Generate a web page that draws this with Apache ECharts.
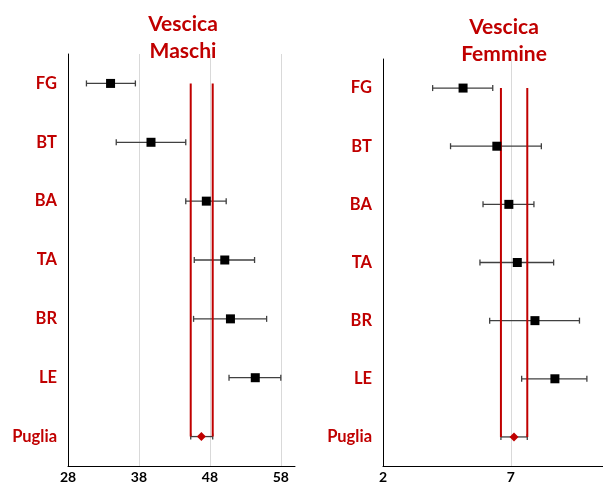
<!DOCTYPE html>
<html>
<head>
<meta charset="utf-8">
<script src="https://cdn.jsdelivr.net/npm/echarts@6/dist/echarts.min.js"></script>
<style>
  html, body { margin: 0; padding: 0; background: #fff; }
  #chart { width: 603px; height: 484px; }
</style>
</head>
<body>
<div id="chart"></div>
<script>
// Provinces, top to bottom
const categories = ['FG', 'BT', 'BA', 'TA', 'BR', 'LE', 'Puglia'];

// Vescica - Maschi: rate with lower / upper confidence bounds
const maschiVal  = [34.0, 39.7, 47.5, 50.1, 50.9, 54.4, 46.8];
const maschiLow  = [30.6, 34.8, 44.6, 45.8, 45.7, 50.7, 45.3];
const maschiHigh = [37.5, 44.6, 50.3, 54.3, 56.0, 58.0, 48.4];

// Vescica - Femmine: rate with lower / upper confidence bounds
const femmineVal  = [5.13, 6.45, 6.92, 7.25, 7.94, 8.72, 7.12];
const femmineLow  = [3.94, 4.64, 5.91, 5.79, 6.17, 7.42, 6.61];
const femmineHigh = [6.29, 8.19, 7.90, 8.67, 9.68, 9.97, 7.64];

const RED = '#C00000';
const FONT = 'Lato, "Open Sans", sans-serif';
const last = categories.length - 1;

function errorBars(low, high, idx) {
  return {
    type: 'custom',
    xAxisIndex: idx, yAxisIndex: idx,
    z: 3,
    data: categories.map((c, i) => [low[i], high[i], i]),
    encode: { x: [0, 1], y: 2 },
    renderItem: function (params, api) {
      const a = api.coord([api.value(0), api.value(2)]);
      const b = api.coord([api.value(1), api.value(2)]);
      const h = 3;
      const style = { stroke: '#404040', lineWidth: 1.3, fill: null };
      return {
        type: 'group',
        children: [
          { type: 'line', shape: { x1: a[0], y1: a[1], x2: b[0], y2: b[1] }, style: style },
          { type: 'line', shape: { x1: a[0], y1: a[1] - h, x2: a[0], y2: a[1] + h }, style: style },
          { type: 'line', shape: { x1: b[0], y1: b[1] - h, x2: b[0], y2: b[1] + h }, style: style }
        ]
      };
    }
  };
}

function markers(val, idx) {
  return {
    type: 'scatter',
    xAxisIndex: idx, yAxisIndex: idx,
    z: 5,
    data: categories.map((c, i) => ({
      value: [val[i], i],
      symbol: i === last ? 'diamond' : 'rect',
      symbolSize: 9,
      itemStyle: { color: i === last ? RED : '#000', opacity: 1 }
    }))
  };
}

function regionLine(v, idx) {
  return {
    type: 'line',
    xAxisIndex: idx, yAxisIndex: idx,
    z: 4,
    symbol: 'none',
    silent: true,
    lineStyle: { color: RED, width: 2 },
    data: [[v, 0], [v, last]]
  };
}

function xAxis(idx, min, max, interval) {
  return {
    type: 'value', gridIndex: idx, min: min, max: max, interval: interval,
    axisLine: { show: true, lineStyle: { color: '#000', width: 1 } },
    axisTick: { show: false },
    axisLabel: { color: '#000', fontWeight: 'bold', fontSize: 14, fontFamily: FONT, margin: 4, showMaxLabel: false },
    splitLine: { show: true, showMinLine: false, showMaxLine: false, lineStyle: { color: '#d9d9d9', width: 1 } }
  };
}

function yAxis(idx) {
  return {
    type: 'category', gridIndex: idx, data: categories, inverse: true,
    axisLine: { show: true, onZero: false, lineStyle: { color: '#000', width: 1 } },
    axisTick: { show: false },
    axisLabel: { color: RED, fontWeight: 'bold', fontSize: 16.5, fontFamily: FONT, margin: 11 },
    splitLine: { show: false }
  };
}

const chart = echarts.init(document.getElementById('chart'));
chart.setOption({
  animation: false,
  backgroundColor: '#fff',
  title: [
    { text: 'Vescica\nMaschi', left: 178, top: 6, textAlign: 'center',
      textStyle: { color: RED, fontSize: 21, fontWeight: 'bold', fontFamily: FONT, lineHeight: 27 } },
    { text: 'Vescica\nFemmine', left: 499, top: 9, textAlign: 'center',
      textStyle: { color: RED, fontSize: 21, fontWeight: 'bold', fontFamily: FONT, lineHeight: 27 } }
  ],
  grid: [
    { left: 68, top: 54, width: 227, height: 414.5 },
    { left: 383, top: 59, width: 220, height: 410.5 }
  ],
  xAxis: [xAxis(0, 28, 60, 10), xAxis(1, 2, 10.6, 5)],
  yAxis: [yAxis(0), yAxis(1)],
  series: [
    regionLine(maschiLow[last], 0),
    regionLine(maschiHigh[last], 0),
    errorBars(maschiLow, maschiHigh, 0),
    markers(maschiVal, 0),
    regionLine(femmineLow[last], 1),
    regionLine(femmineHigh[last], 1),
    errorBars(femmineLow, femmineHigh, 1),
    markers(femmineVal, 1)
  ]
});
</script>
</body>
</html>
